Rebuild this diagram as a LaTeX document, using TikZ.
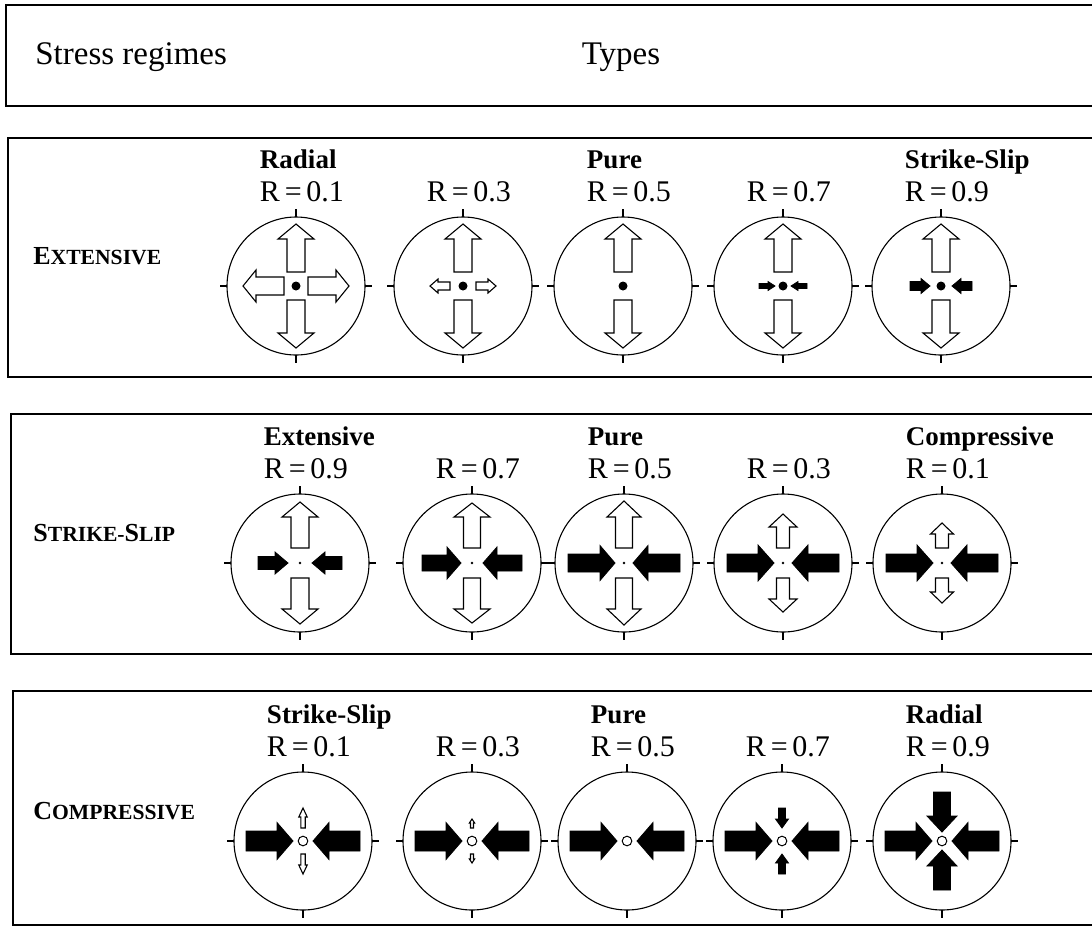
\documentclass[tikz,border=0pt]{standalone}
\usepackage{fontspec}
\setmainfont{Liberation Serif}
\usetikzlibrary{calc}

% one drawing unit = 0.5pt, y runs downwards
\tikzset{
  rim/.style={circle, draw, line width=0.55pt, minimum size=69pt, inner sep=0pt},
  tick/.style={line width=0.55pt},
  panel/.style={draw, line width=1.2pt},
  openarrow/.style={draw, fill=white, line width=0.55pt, line join=miter},
  solidarrow/.style={draw, fill=black, line width=0.4pt, line join=miter},
  rlab/.style={inner sep=0pt, font=\fontsize{15}{18}\selectfont},
  tlab/.style={inner sep=0pt, anchor=base west, font=\fontsize{13.5}{16}\selectfont\bfseries},
  rowlab/.style={inner sep=0pt, anchor=west, font=\bfseries},
  headlab/.style={inner sep=0pt, font=\fontsize{16.5}{20}\selectfont},
}

% fake small capitals for the regime names
\newcommand{\capsmall}[2]{{\fontsize{13}{15}\selectfont #1}{\fontsize{10.8}{12}\selectfont #2}}

% stereonet circle with its four compass ticks
\newcommand{\stereo}[3]{%
  \node[rim] (#1) at (#2,#3) {};
  \draw[tick] ($(#1.north)+(0,1)$) -- ++(0,-8);
  \draw[tick] ($(#1.south)+(0,-1)$) -- ++(0,8);
  \draw[tick] ($(#1.west)+(1,0)$) -- ++(-7,0);
  \draw[tick] ($(#1.east)+(-1,0)$) -- ++(7,0);
}

% block arrow: style, centre node, angle, tail, head base, tip, half shaft, half head
\newcommand{\blockarrow}[8]{%
  \begin{scope}[shift={(#2.center)}, rotate=#3]
    \path[#1] (#4,-#7) -- (#5,-#7) -- (#5,-#8) -- (#6,0) -- (#5,#8) -- (#5,#7) -- (#4,#7) -- cycle;
  \end{scope}}
% the same arrow on both sides of the centre
\newcommand{\axispair}[8]{%
  \blockarrow{#1}{#2}{#3}{#4}{#5}{#6}{#7}{#8}%
  \blockarrow{#1}{#2}{#3+180}{#4}{#5}{#6}{#7}{#8}}

% R label and optional type name above a circle
\newcommand{\rlabel}[3]{%
  \node[rlab, anchor=base] (#1r) at ($(#1.center)+(6,-85)$) {R$\,$=$\,$#2};
  \node[tlab] (#1t) at ($(#1r.base west)+(0,-33)$) {#3};
}

\begin{document}
\begin{tikzpicture}[x=0.5pt, y=-0.5pt]
\useasboundingbox (0,0) rectangle (1092,927);
\clip (0,0) rectangle (1092,927);

% panels
\draw[panel] (6,5) rectangle (1110,106);
\draw[panel] (8,138) rectangle (1110,377);
\draw[panel] (11,414) rectangle (1110,654);
\draw[panel] (13,691) rectangle (1110,925);

% header
\node[headlab, anchor=west] (hdrA) at (35,57) {Stress regimes};
\node[headlab] (hdrB) at (621,57) {Types};

% ---------- extensive regime ----------
\node[rowlab] (regE) at (33,256) {\capsmall{E}{XTENSIVE}};

\stereo{e1}{296}{286}
\stereo{e2}{463}{286}
\stereo{e3}{623}{286}
\stereo{e4}{783}{286}
\stereo{e5}{941}{286}

\rlabel{e1}{0.1}{Radial}
\rlabel{e2}{0.3}{}
\rlabel{e3}{0.5}{Pure}
\rlabel{e4}{0.7}{}
\rlabel{e5}{0.9}{Strike-Slip}

\foreach \c in {e1,e2,e3,e4,e5}{
  \axispair{openarrow}{\c}{90}{14}{47}{62}{9}{18}
  \fill (\c.center) circle (2.25pt);
}
\axispair{openarrow}{e1}{0}{12}{40}{53}{9}{16}
\axispair{openarrow}{e2}{0}{13}{25}{33}{4}{7}
\axispair{solidarrow}{e4}{0}{24}{15}{8}{2.5}{4.5}
\axispair{solidarrow}{e5}{0}{31}{20}{11}{4.5}{7.5}

% ---------- strike-slip regime ----------
\node[rowlab] (regS) at (33,533) {\capsmall{S}{TRIKE-}\capsmall{S}{LIP}};

\stereo{s1}{300}{563}
\stereo{s2}{472}{563}
\stereo{s3}{624}{563}
\stereo{s4}{783}{563}
\stereo{s5}{942}{563}

\rlabel{s1}{0.9}{Extensive}
\rlabel{s2}{0.7}{}
\rlabel{s3}{0.5}{Pure}
\rlabel{s4}{0.3}{}
\rlabel{s5}{0.1}{Compressive}

\axispair{openarrow}{s1}{90}{15}{46}{61}{9}{18}
\axispair{openarrow}{s2}{90}{15}{46}{60}{8.5}{18}
\axispair{openarrow}{s3}{90}{15}{46}{62}{8.5}{17}
\axispair{openarrow}{s4}{90}{15}{36}{49}{6.5}{14}
\axispair{openarrow}{s5}{90}{15}{29}{40}{6.5}{11.5}

\axispair{solidarrow}{s1}{0}{42}{25}{12}{6.5}{11}
\axispair{solidarrow}{s2}{0}{50}{25}{11}{8}{16}
\axispair{solidarrow}{s3}{0}{56}{24}{9}{9}{17.5}
\axispair{solidarrow}{s4}{0}{56}{25}{9}{9}{18}
\axispair{solidarrow}{s5}{0}{56}{25}{9}{9}{18}

\foreach \c in {s1,s2,s3,s4,s5}{
  \fill (\c.center) circle (0.65pt);
}

% ---------- compressive regime ----------
\node[rowlab] (regC) at (33,811) {\capsmall{C}{OMPRESSIVE}};

\stereo{k1}{303}{841}
\stereo{k2}{472}{841}
\stereo{k3}{627}{841}
\stereo{k4}{782}{841}
\stereo{k5}{942}{841}

\rlabel{k1}{0.1}{Strike-Slip}
\rlabel{k2}{0.3}{}
\rlabel{k3}{0.5}{Pure}
\rlabel{k4}{0.7}{}
\rlabel{k5}{0.9}{Radial}

\foreach \c in {k1,k2,k3,k4,k5}{
  \axispair{solidarrow}{\c}{0}{57}{26}{10}{10}{18.5}
  \draw[line width=0.5pt] (\c.center) circle (2.4pt);
}
\axispair{openarrow}{k1}{90}{13}{24}{33}{2.2}{4.2}
\axispair{openarrow}{k2}{90}{13}{18}{22}{1.5}{2.6}
\axispair{solidarrow}{k4}{90}{33}{22}{13}{3.5}{6.5}
\axispair{solidarrow}{k5}{90}{49}{25}{9}{8.5}{15}

\end{tikzpicture}
\end{document}
